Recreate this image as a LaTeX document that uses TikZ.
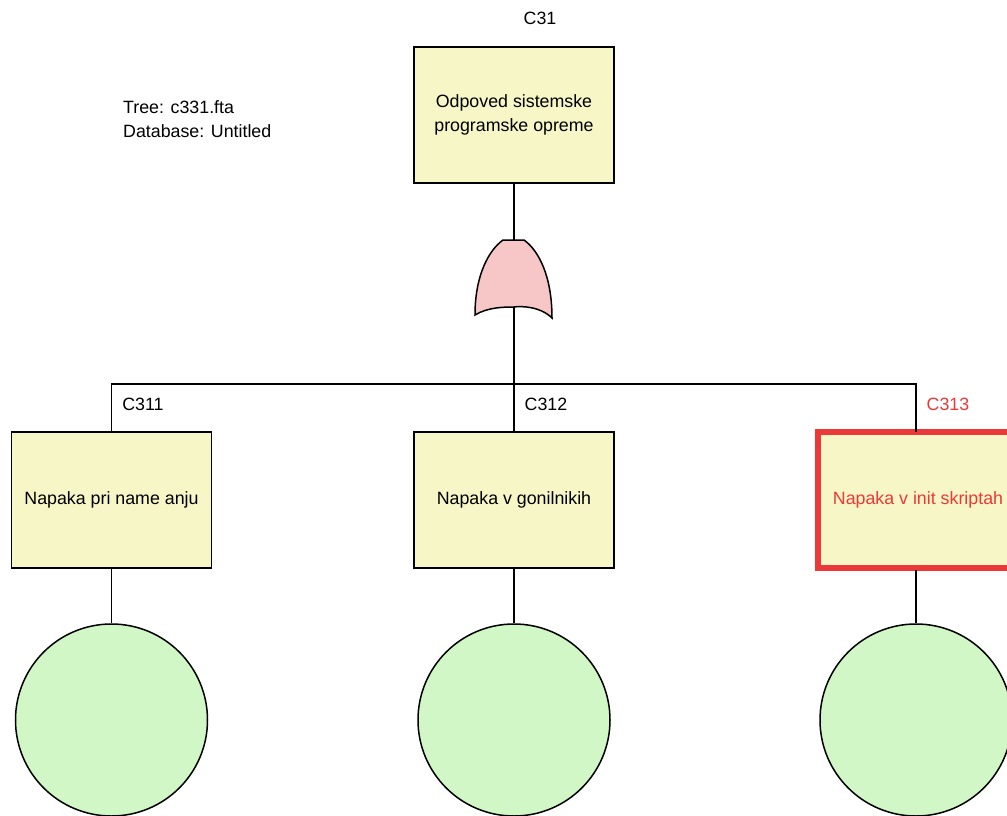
\documentclass[tikz,border=0pt]{standalone}
\usepackage{fontspec}
\setmainfont{Liberation Sans}
\begin{document}
\begin{tikzpicture}[x=1pt,y=-1pt,
  every node/.style={font=\fontsize{17.8}{24}\selectfont},
  event/.style={draw=black,line width=1.5pt,fill=boxyellow,minimum width=200pt,minimum height=136pt,inner sep=0pt,align=center},
  hotevent/.style={event,draw=hotred,line width=6pt,text=hotred},
  basic/.style={draw=black,line width=1.5pt,fill=basicgreen,circle,minimum size=192pt,inner sep=0pt},
  tag/.style={inner sep=0pt},
  wire/.style={draw=black,line width=1.5pt}]
\definecolor{boxyellow}{RGB}{247,246,198}
\definecolor{basicgreen}{RGB}{209,247,199}
\definecolor{gatepink}{RGB}{247,198,198}
\definecolor{hotred}{RGB}{236,56,56}
\useasboundingbox (0,0) rectangle (1007,816);

% header
\node[tag,anchor=west,align=left] (info) at (123,119) {Tree: c331.fta\\Database: Untitled};

% top event
\node[event] (top) at (514,115) {Odpoved sistemske\\programske opreme};
\node[tag] (ltop) at (540,18) {C31};

% OR gate
\coordinate (gtop) at (514,240);
\coordinate (gbot) at (514,307);
\filldraw[fill=gatepink,draw=black,line width=1.5pt]
  (503,240) -- (524,240)
  .. controls (538,250) and (552,275) .. (552,318)
  .. controls (540,306) and (520,306) .. (514,307)
  .. controls (505,307) and (488,307) .. (475,315)
  .. controls (475,275) and (489,250) .. (503,240) -- cycle;

% intermediate events
\node[event] (e1) at (111.5,500) {Napaka pri name anju};
\node[event] (e2) at (514,500) {Napaka v gonilnikih};
\node[hotevent] (e3) at (918,500) {Napaka v init skriptah};
\node[tag] (l1) at (143,404) {C311};
\node[tag] (l2) at (546,404) {C312};
\node[tag,text=hotred] (l3) at (948,404) {C313};

% basic events
\node[basic] (b1) at (111.5,720) {};
\node[basic] (b2) at (514,720) {};
\node[basic] (b3) at (916,720) {};

% connectors
\coordinate (bus) at (514,384);
\path[wire] (top.south) -- (gtop);
\path[wire] (gbot) -- (e2.north);
\path[wire] (e1.north) |- (bus) -| (916,432);
\path[wire] (e1.south) -- (b1.north);
\path[wire] (e2.south) -- (b2.north);
\path[wire] (916,570) -- (b3.north);
\end{tikzpicture}
\end{document}
